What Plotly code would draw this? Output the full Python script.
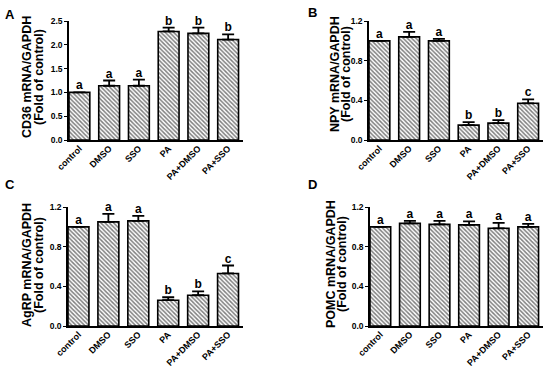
import plotly.graph_objects as go

categories = ["control", "DMSO", "SSO", "PA", "PA+DMSO", "PA+SSO"]

cd36_vals = [1.00, 1.14, 1.14, 2.28, 2.24, 2.11]
cd36_err = [0.00, 0.11, 0.13, 0.08, 0.12, 0.11]
cd36_sig = ["a", "a", "a", "b", "b", "b"]

npy_vals = [1.00, 1.04, 1.00, 0.15, 0.17, 0.37]
npy_err = [0.00, 0.05, 0.02, 0.03, 0.03, 0.04]
npy_sig = ["a", "a", "a", "b", "b", "c"]

agrp_vals = [1.00, 1.05, 1.06, 0.26, 0.31, 0.53]
agrp_err = [0.00, 0.08, 0.05, 0.03, 0.04, 0.08]
agrp_sig = ["a", "a", "a", "b", "b", "c"]

pomc_vals = [1.00, 1.035, 1.025, 1.02, 0.985, 1.00]
pomc_err = [0.00, 0.025, 0.035, 0.035, 0.055, 0.03]
pomc_sig = ["a", "a", "a", "a", "a", "a"]

panels = [
    dict(vals=cd36_vals, err=cd36_err, sig=cd36_sig, title=["CD36 mRNA/GAPDH", "(Fold of control)"],
         yrange=[0, 2.5], ticks=[0, 0.5, 1.0, 1.5, 2.0, 2.5], fmt=".1f", letter="A"),
    dict(vals=npy_vals, err=npy_err, sig=npy_sig, title=["NPY mRNA/GAPDH", "(Fold of control)"],
         yrange=[0, 1.2], ticks=[0, 0.4, 0.8, 1.2], fmt=".1f", letter="B"),
    dict(vals=agrp_vals, err=agrp_err, sig=agrp_sig, title=["AgRP mRNA/GAPDH", "(Fold of control)"],
         yrange=[0, 1.2], ticks=[0, 0.4, 0.8, 1.2], fmt=".1f", letter="C"),
    dict(vals=pomc_vals, err=pomc_err, sig=pomc_sig, title=["POMC mRNA/GAPDH", "(Fold of control)"],
         yrange=[0, 1.2], ticks=[0, 0.4, 0.8, 1.2], fmt=".1f", letter="D"),
]

W, H = 550, 368
# pixel boxes: (left, right, top, bottom)
boxes = [(69, 243, 21, 140), (369, 543, 21, 140), (68, 243, 207, 326), (370, 543, 207, 326)]
letter_pos = [(10, 14), (312, 13), (10, 184), (312, 184)]
# y-title line centres (x of line1, x of line2, y centre), pixels
title_pos = [(27, 39, 77), (335, 346, 74), (27, 39, 265), (331, 342, 264)]

FONT = "Arial, Liberation Sans, sans-serif"
fig = go.Figure()
layout = dict(width=W, height=H, margin=dict(l=0, r=0, t=0, b=0, autoexpand=False),
              paper_bgcolor="white", plot_bgcolor="white", showlegend=False,
              font=dict(family=FONT, color="black"))
annotations = []
for i, (p, b) in enumerate(zip(panels, boxes)):
    n = "" if i == 0 else str(i + 1)
    xa, ya = "x" + n, "y" + n
    tops = [v + e for v, e in zip(p["vals"], p["err"])]
    fig.add_trace(go.Bar(
        x=categories, y=p["vals"], xaxis=xa, yaxis=ya, width=0.7,
        marker=dict(color="white", line=dict(color="black", width=1.6),
                    pattern=dict(shape="\\", size=3, solidity=0.5, fgcolor="black", bgcolor="white")),
        error_y=dict(type="data", array=p["err"], arrayminus=[0] * 6, symmetric=False,
                     color="black", thickness=1.8, width=6),
    ))
    fig.add_trace(go.Scatter(
        x=categories, y=tops, xaxis=xa, yaxis=ya, mode="text", text=p["sig"],
        textposition="top center", textfont=dict(family=FONT, size=12, color="black", weight="bold"),
        cliponaxis=False,
    ))
    l, r, t, bt = b
    layout["xaxis" + n] = dict(domain=[l / W, r / W], anchor=ya, range=[-0.35, 5.5], automargin=False,
                               showline=True, linecolor="black", linewidth=1.6, ticks="",
                               tickangle=-45, tickfont=dict(size=9, family=FONT, weight="bold"),
                               ticklabelstandoff=-2,
                               showgrid=False, zeroline=False, fixedrange=True)
    layout["yaxis" + n] = dict(domain=[1 - bt / H, 1 - t / H], anchor=xa, range=p["yrange"], automargin=False,
                               tickvals=p["ticks"], tickformat=p["fmt"],
                               showline=True, linecolor="black", linewidth=1.6,
                               ticks="outside", ticklen=3, tickwidth=1.2, tickcolor="black",
                               tickfont=dict(size=8.5, family=FONT, weight="bold"),
                               showgrid=False, zeroline=False, fixedrange=True)
    lx, ly = letter_pos[i]
    annotations.append(dict(x=lx / W, y=1 - ly / H, xref="paper", yref="paper", text="<b>" + p["letter"] + "</b>",
                            showarrow=False, font=dict(size=13, family=FONT), xanchor="center", yanchor="middle"))
    tx1, tx2, ty = title_pos[i]
    for tx, txt in zip((tx1, tx2), p["title"]):
        annotations.append(dict(x=tx / W, y=1 - ty / H, xref="paper", yref="paper", text="<b>" + txt + "</b>",
                                showarrow=False, textangle=-90, font=dict(size=12.5, family=FONT),
                                xanchor="center", yanchor="middle"))
layout["annotations"] = annotations
fig.update_layout(**layout)
fig.write_html("out.html", config={"displayModeBar": False},
               post_script="document.body.style.margin='0';document.body.style.padding='0';")
